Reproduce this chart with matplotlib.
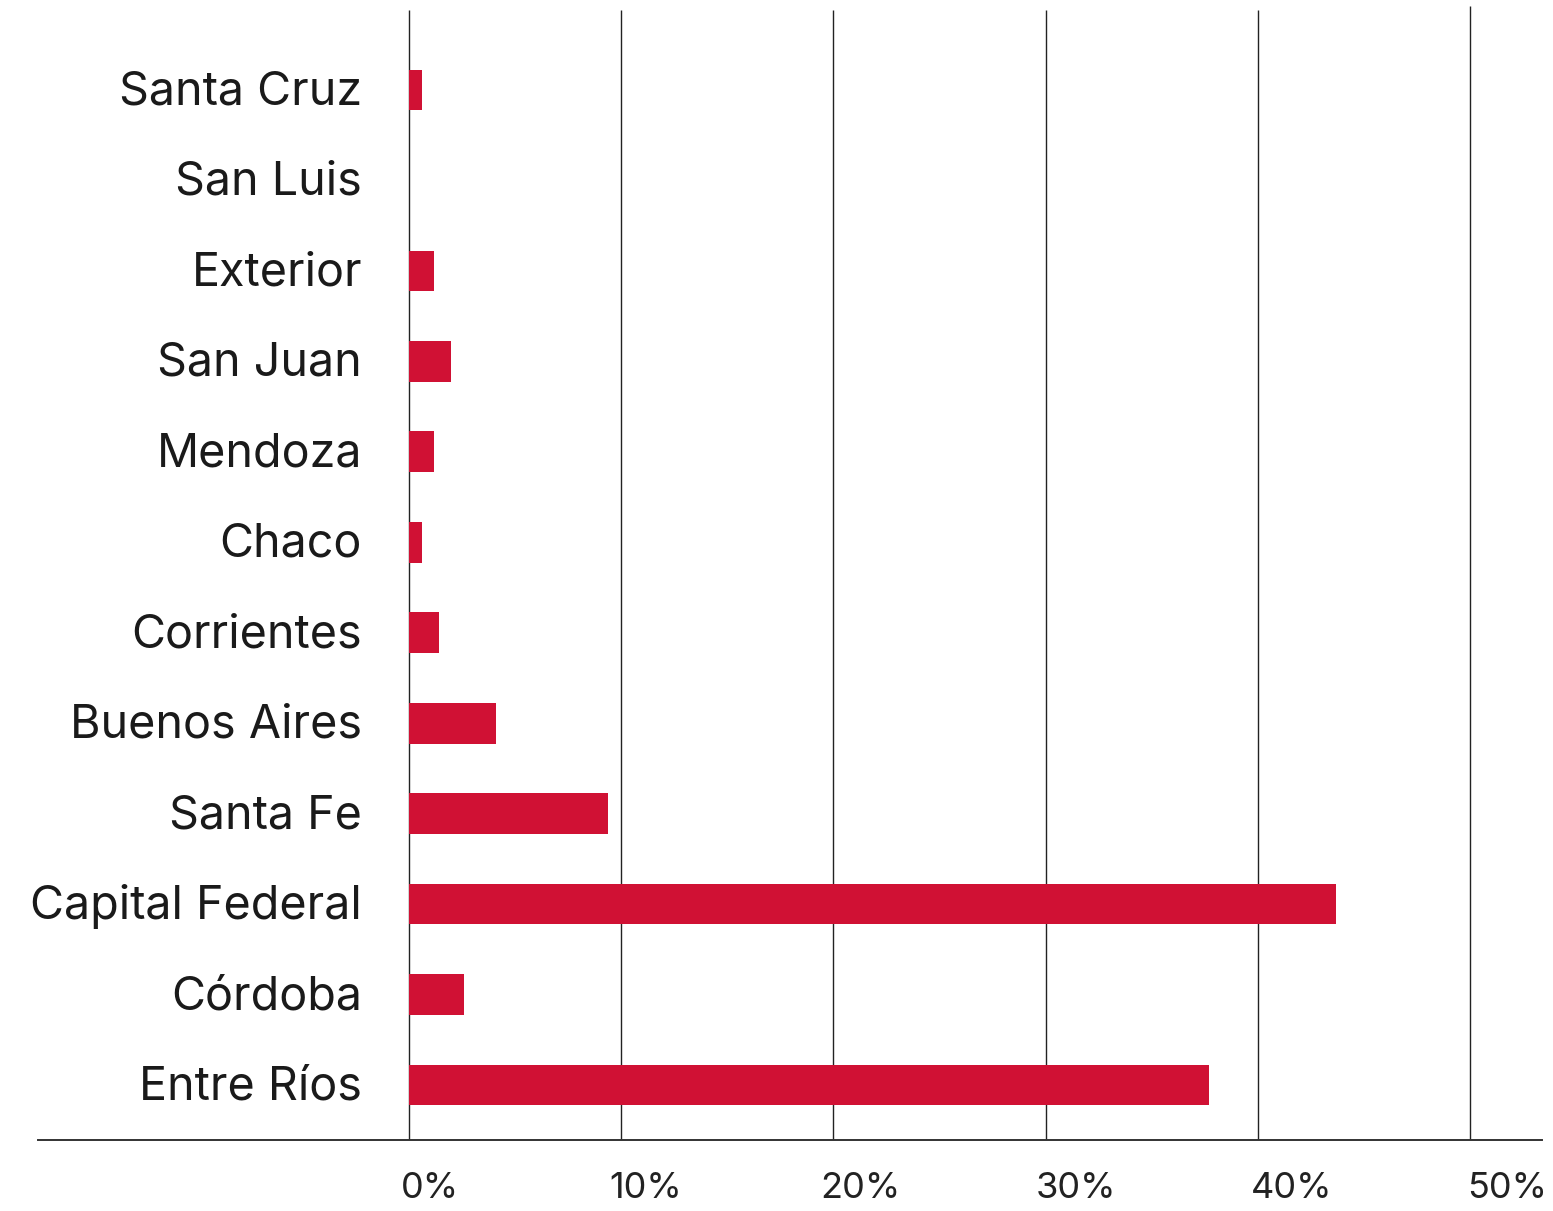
import matplotlib
matplotlib.use("Agg")
import matplotlib.pyplot as plt
import matplotlib.transforms as mtransforms

plt.rcParams['font.family'] = ['Inter', 'DejaVu Sans']

categories = ["Entre Ríos", "Córdoba", "Capital Federal", "Santa Fe", "Buenos Aires",
              "Corrientes", "Chaco", "Mendoza", "San Juan", "Exterior", "San Luis", "Santa Cruz"]
values = [37.7, 2.6, 43.7, 9.4, 4.1, 1.4, 0.6, 1.2, 2.0, 1.2, 0.0, 0.6]
tick_values = [0, 10, 20, 30, 40, 50]
tick_labels = ["0%", "10%", "20%", "30%", "40%", "50%"]

W, H = 1553, 1211
fig = plt.figure(figsize=(W / 100, H / 100), dpi=100)
ax = fig.add_axes([38 / W, (H - 1140) / H, (1542 - 38) / W, 1140 / H])

px_per_pct = (1470 - 409) / 50.0
xmin = (38 - 409) / px_per_pct
xmax = (1542 - 409) / px_per_pct
ax.set_xlim(xmin, xmax)

step = 90.45
ybot = -(1140 - 1085) / step
ytop = 11 + 90 / step
ax.set_ylim(ybot, ytop)

color = '#D01134'
ypos = list(range(len(categories)))
ax.barh(ypos, values, height=0.45, color=color, zorder=3)

for t in tick_values:
    top_px = 6 if t == 50 else 10
    ax.vlines(t, ybot, ytop - top_px / step, color='#222222', linewidth=1.0, zorder=2)

ax.axhline(ybot, color='#333333', linewidth=1.4, zorder=4, clip_on=False)

for y, c in zip(ypos, categories):
    ax.text((362 - 409) / px_per_pct, y - 2.5 / step, c, ha='right', va='center',
            fontsize=33.6, color='#1a1a1a')

trans = mtransforms.blended_transform_factory(ax.transData, fig.transFigure)
for i, lab in enumerate(tick_labels):
    xc = 0.99 + i * 10.15
    ax.text(xc, 1 - 1189 / H, lab, ha='center', va='center', fontsize=26,
            color='#222222', transform=trans)

ax.set_xticks([])
ax.set_yticks([])
for s in ax.spines.values():
    s.set_visible(False)

fig.savefig("out.png", dpi=100, facecolor='white')
